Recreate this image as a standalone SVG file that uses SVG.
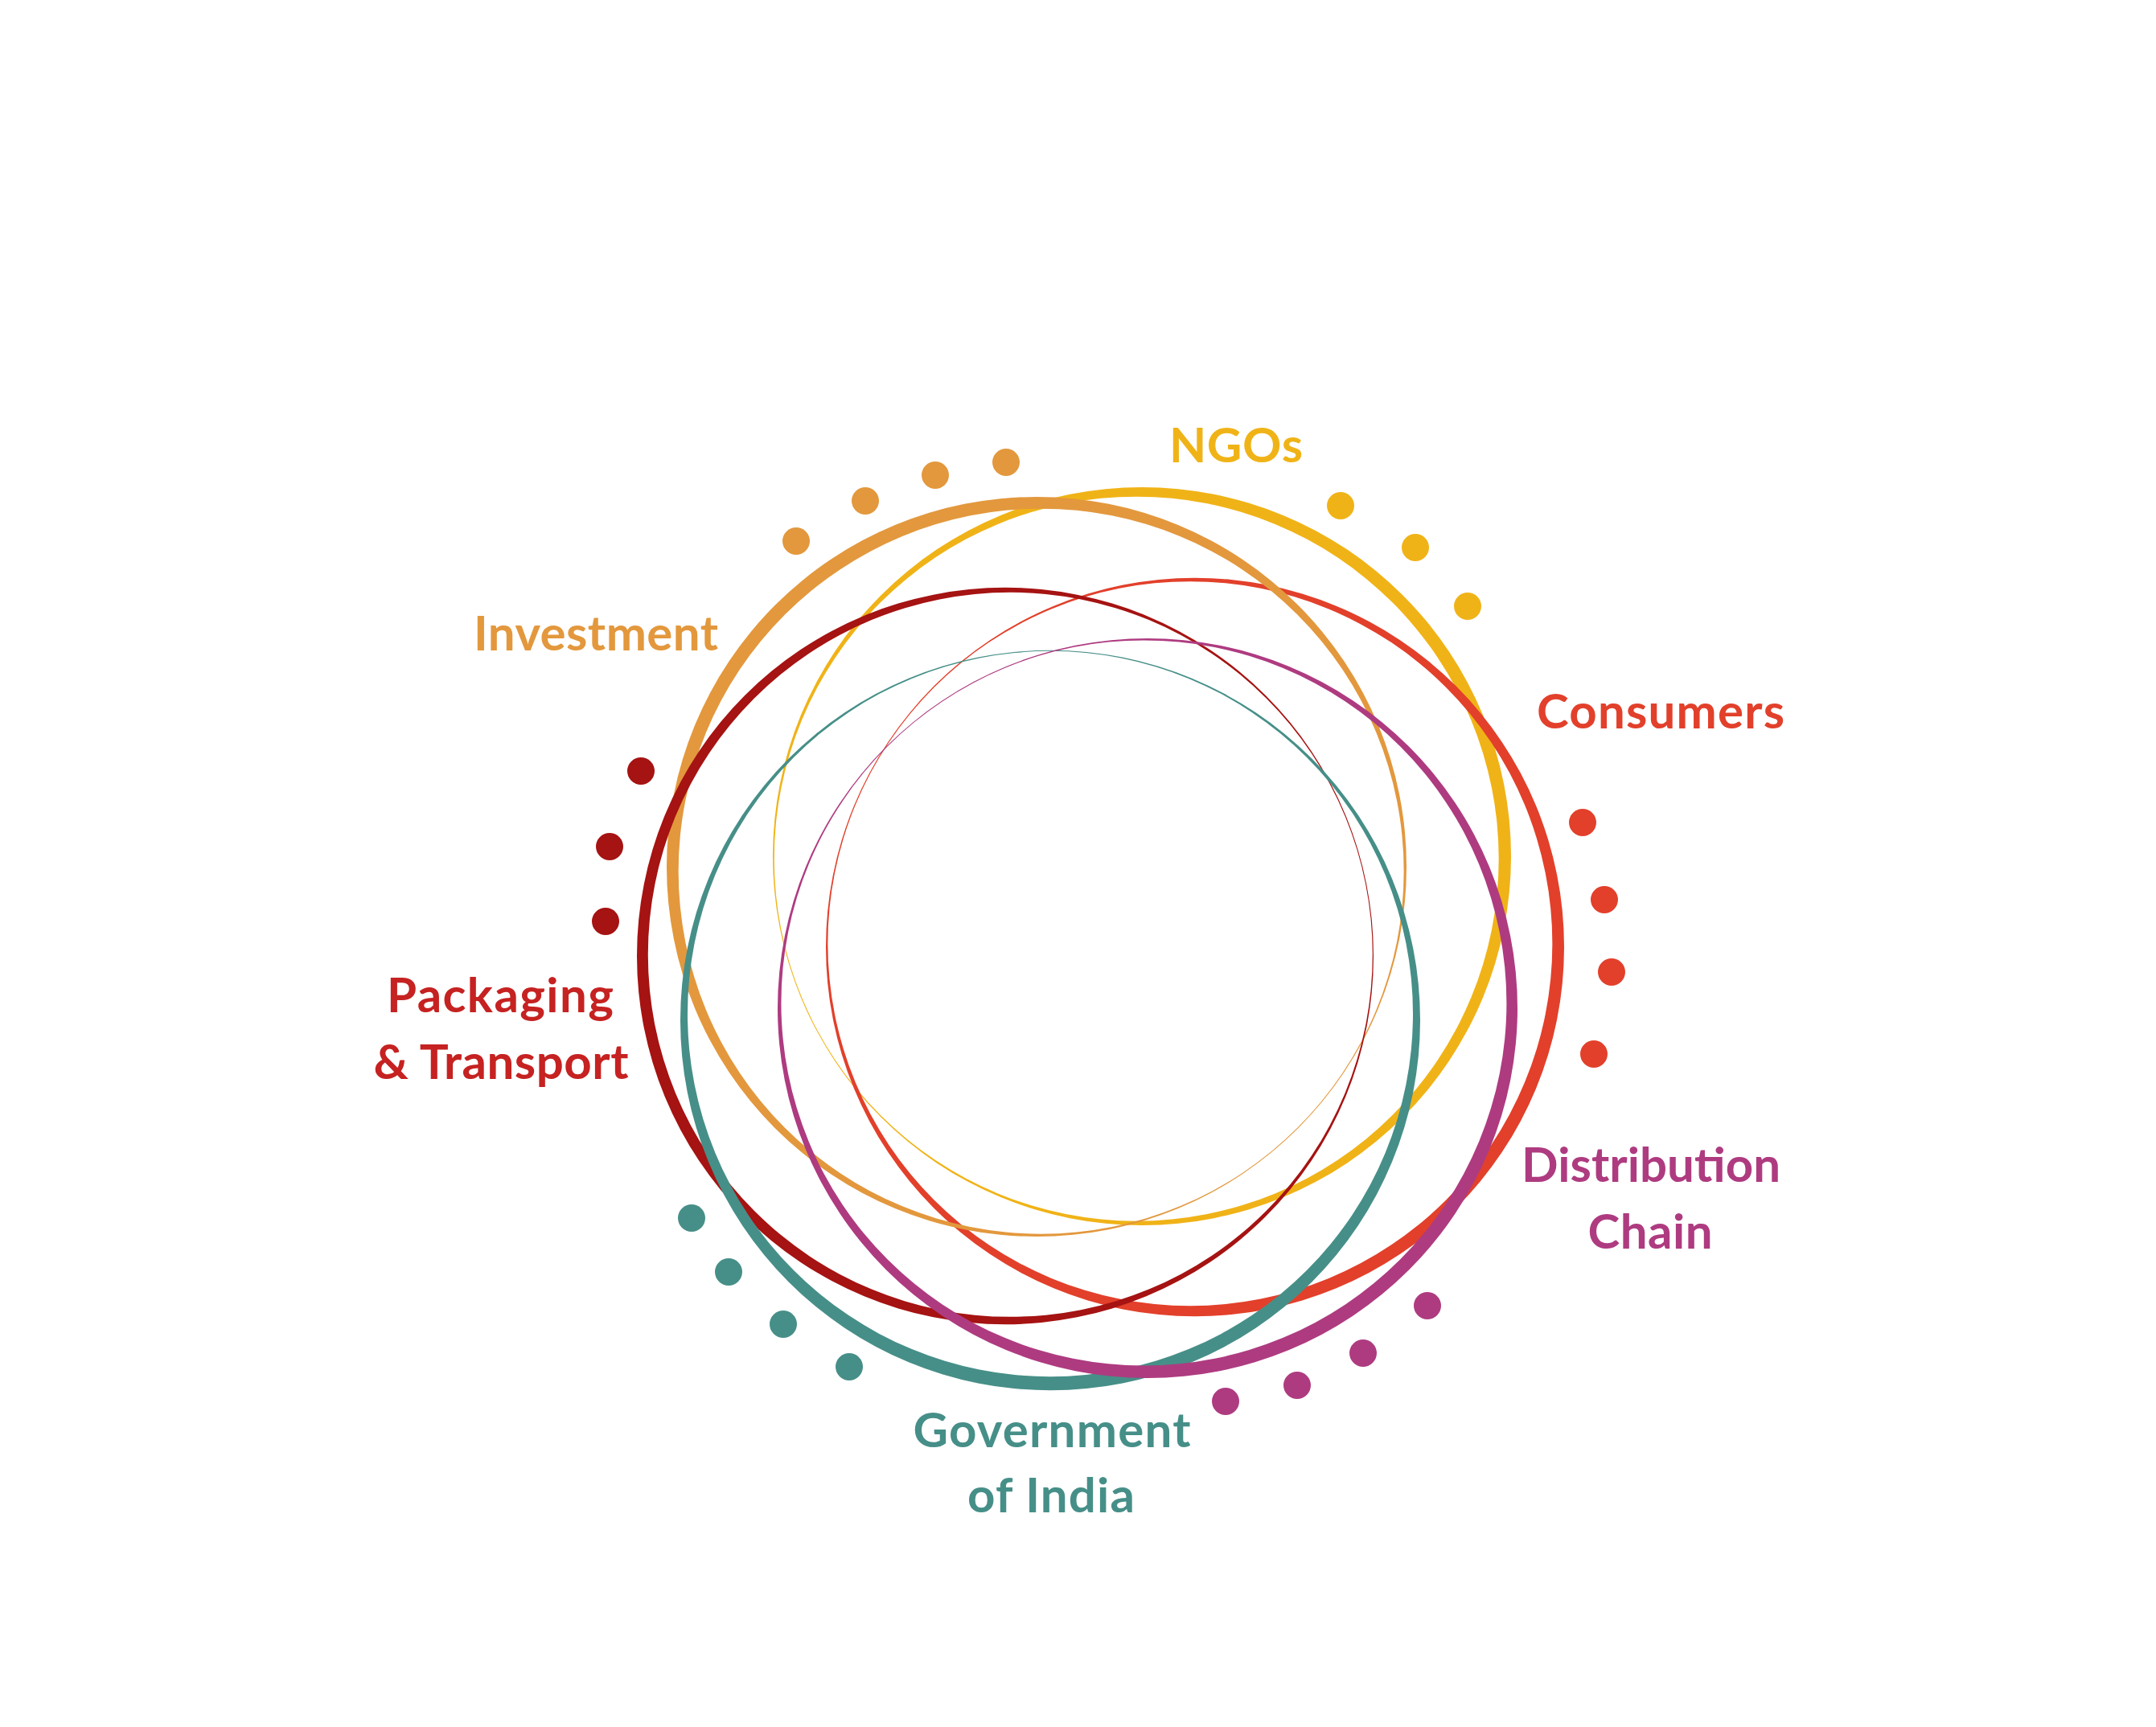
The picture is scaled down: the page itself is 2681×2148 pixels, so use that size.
<svg xmlns="http://www.w3.org/2000/svg" width="2681" height="2148" viewBox="0 0 2681 2148">
  <style>
    .ring { fill-rule: evenodd; stroke: none; }
    .label { font-family: Lato, "Open Sans", "Liberation Sans", sans-serif; font-weight: 700; font-size: 60px; }
    .mid { text-anchor: middle; }
    .investment { fill: #E3983D; }
    .ngo { fill: #F0B317; }
    .consumer { fill: #E2402B; }
    .packaging { fill: #A51312; }
    .packaging-text { fill: #C52221; }
    .government { fill: #468F88; }
    .distribution { fill: #AE3B80; }
  </style>
  <rect width="2681" height="2148" fill="#FFFFFF"/>

  <!-- Each ring is an outer circle minus an offset inner circle, so the band tapers from thick to hairline -->

  <!-- NGOs: ring thickest toward the right -->
  <g id="node-ngos">
    <path class="ring ngo" d="M 961 1065 A 459 459 0 1 0 1879 1065 A 459 459 0 1 0 961 1065 Z M 962.70 1068.17 A 450.5 450.5 0 1 0 1863.70 1068.17 A 450.5 450.5 0 1 0 962.70 1068.17 Z"/>
    <circle class="ngo" cx="1667" cy="629" r="17"/>
    <circle class="ngo" cx="1760" cy="681" r="17"/>
    <circle class="ngo" cx="1825" cy="754" r="17"/>
    <text class="label ngo" x="1454" y="575" textLength="166">NGOs</text>
  </g>

  <!-- Consumers: ring thickest toward lower right -->
  <g id="node-consumers">
    <path class="ring consumer" d="M 1027 1178 A 459 459 0 1 0 1945 1178 A 459 459 0 1 0 1027 1178 Z M 1029.36 1173.70 A 450.5 450.5 0 1 0 1930.36 1173.70 A 450.5 450.5 0 1 0 1029.36 1173.70 Z"/>
    <circle class="consumer" cx="1968" cy="1023" r="17"/>
    <circle class="consumer" cx="1995" cy="1119" r="17"/>
    <circle class="consumer" cx="2004" cy="1209" r="17"/>
    <circle class="consumer" cx="1982" cy="1311" r="17"/>
    <text class="label consumer" x="1911" y="906" textLength="308">Consumers</text>
  </g>

  <!-- Investment: ring thickest toward upper left -->
  <g id="node-investment">
    <path class="ring investment" d="M 829 1078 A 460 460 0 1 0 1749 1078 A 460 460 0 1 0 829 1078 Z M 843.66 1083.66 A 451 451 0 1 0 1745.66 1083.66 A 451 451 0 1 0 843.66 1083.66 Z"/>
    <circle class="investment" cx="990" cy="673" r="17"/>
    <circle class="investment" cx="1076" cy="623" r="17"/>
    <circle class="investment" cx="1163" cy="591" r="17"/>
    <circle class="investment" cx="1251" cy="575" r="17"/>
    <text class="label investment" x="589" y="809" textLength="304">Investment</text>
  </g>

  <!-- Packaging & Transport: ring thickest toward the left -->
  <g id="node-packaging">
    <path class="ring packaging" d="M 792 1189 A 458 458 0 1 0 1708 1189 A 458 458 0 1 0 792 1189 Z M 805.78 1187.32 A 450.5 450.5 0 1 0 1706.78 1187.32 A 450.5 450.5 0 1 0 805.78 1187.32 Z"/>
    <circle class="packaging" cx="797" cy="959" r="17"/>
    <circle class="packaging" cx="758" cy="1053" r="17"/>
    <circle class="packaging" cx="753" cy="1146" r="17"/>
    <text class="label mid packaging-text" x="622" y="1259" textLength="282">Packaging</text>
    <text class="label mid packaging-text" x="623" y="1342" textLength="317">&amp; Transport</text>
  </g>

  <!-- Government of India: ring thickest toward the bottom -->
  <g id="node-government">
    <path class="ring government" d="M 846 1269 A 460 460 0 1 0 1766 1269 A 460 460 0 1 0 846 1269 Z M 855 1261 A 451 451 0 1 0 1757 1261 A 451 451 0 1 0 855 1261 Z"/>
    <circle class="government" cx="860" cy="1515" r="17"/>
    <circle class="government" cx="906" cy="1582" r="17"/>
    <circle class="government" cx="974" cy="1647" r="17"/>
    <circle class="government" cx="1056" cy="1700" r="17"/>
    <text class="label mid government" x="1308" y="1800" textLength="345">Government</text>
    <text class="label mid government" x="1307" y="1881" textLength="208">of India</text>
  </g>

  <!-- Distribution Chain: ring thickest toward lower right -->
  <g id="node-distribution">
    <path class="ring distribution" d="M 967 1254 A 460 460 0 1 0 1887 1254 A 460 460 0 1 0 967 1254 Z M 971.41 1247.45 A 451 451 0 1 0 1873.41 1247.45 A 451 451 0 1 0 971.41 1247.45 Z"/>
    <circle class="distribution" cx="1775" cy="1624" r="17"/>
    <circle class="distribution" cx="1695" cy="1683" r="17"/>
    <circle class="distribution" cx="1613" cy="1723" r="17"/>
    <circle class="distribution" cx="1524" cy="1743" r="17"/>
    <text class="label mid distribution" x="2053" y="1470" textLength="322">Distribution</text>
    <text class="label mid distribution" x="2052" y="1553" textLength="155">Chain</text>
  </g>

  <g id="connectors"/>
</svg>
